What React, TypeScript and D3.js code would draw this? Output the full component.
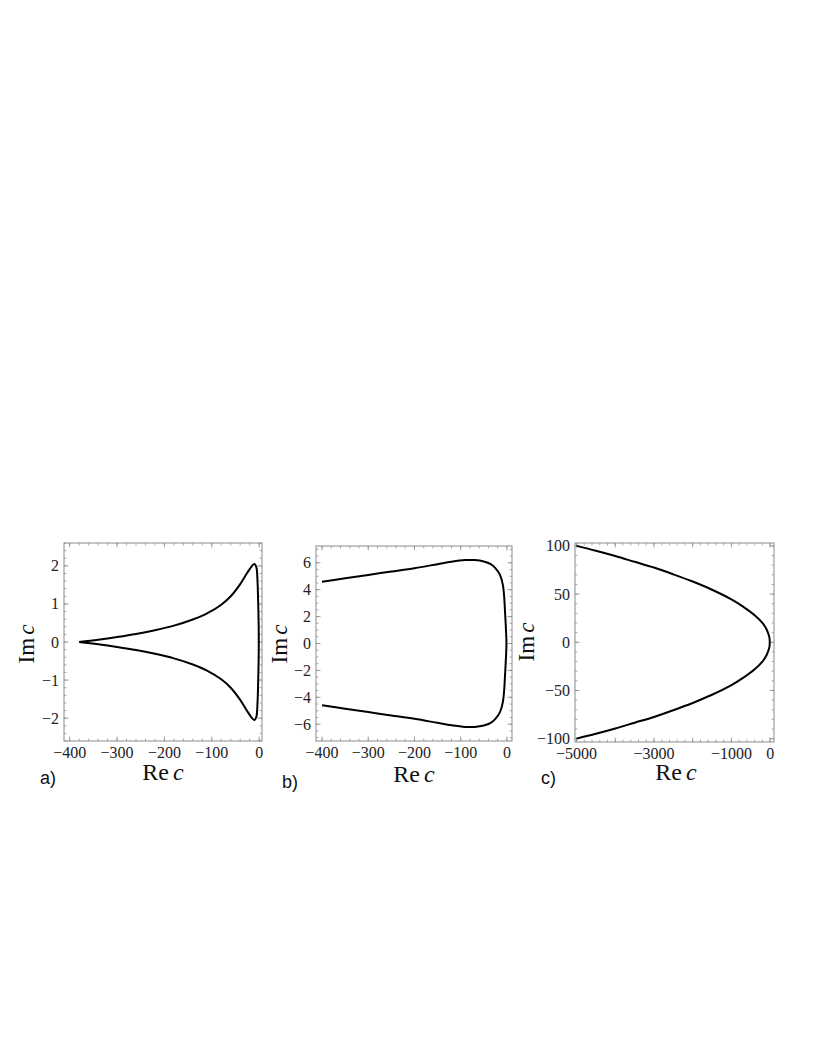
import * as d3 from "d3";

// curve a: Re c, Im c (loop)
const curveA: [number, number][] = [
  [-380, 0], [-340, 0.06], [-300, 0.13], [-260, 0.21], [-220, 0.31], [-180, 0.43],
  [-140, 0.59], [-110, 0.75], [-80, 0.98], [-60, 1.2], [-40, 1.52], [-25, 1.82],
  [-15, 2.0], [-10, 2.05], [-6, 1.97], [-3.5, 1.6], [-2, 1.0], [-1, 0.4], [-0.8, 0],
  [-1, -0.4], [-2, -1.0], [-3.5, -1.6], [-6, -1.97], [-10, -2.05], [-15, -2.0],
  [-25, -1.82], [-40, -1.52], [-60, -1.2], [-80, -0.98], [-110, -0.75], [-140, -0.59],
  [-180, -0.43], [-220, -0.31], [-260, -0.21], [-300, -0.13], [-340, -0.06], [-380, 0],
];

const curveB: [number, number][] = [
  [-400, 4.6], [-350, 4.85], [-300, 5.1], [-250, 5.35], [-200, 5.6], [-150, 5.9],
  [-120, 6.08], [-90, 6.2], [-70, 6.2], [-50, 6.1], [-35, 5.9], [-25, 5.6],
  [-15, 5.1], [-9, 4.4], [-6, 3.5], [-4, 2.3], [-2, 1.0], [-1, 0],
  [-2, -1.0], [-4, -2.3], [-6, -3.5], [-9, -4.4], [-15, -5.1], [-25, -5.6],
  [-35, -5.9], [-50, -6.1], [-70, -6.2], [-90, -6.2], [-120, -6.08], [-150, -5.9],
  [-200, -5.6], [-250, -5.35], [-300, -5.1], [-350, -4.85], [-400, -4.6],
];

const curveC: [number, number][] = [
  [-5000, 100], [-4500, 95], [-4000, 89.5], [-3500, 83.5], [-3000, 77.5], [-2500, 70.5],
  [-2000, 63], [-1500, 54.5], [-1000, 44.5], [-700, 37], [-400, 28], [-200, 20],
  [-100, 14], [-40, 8], [-15, 4], [-10, 0],
  [-15, -4], [-40, -8], [-100, -14], [-200, -20], [-400, -28], [-700, -37],
  [-1000, -44.5], [-1500, -54.5], [-2000, -63], [-2500, -70.5], [-3000, -77.5],
  [-3500, -83.5], [-4000, -89.5], [-4500, -95], [-5000, -100],
];

const xTicksA = [-400, -300, -200, -100, 0];
const yTicksA = [-2, -1, 0, 1, 2];
const xTicksB = [-400, -300, -200, -100, 0];
const yTicksB = [-6, -4, -2, 0, 2, 4, 6];
const xTicksC = [-5000, -3000, -1000, 0];
const yTicksC = [-100, -50, 0, 50, 100];

const fmt = (v: number) => (v < 0 ? "\u2212" + Math.abs(v) : String(v));

type PanelProps = {
  left: number; top: number; w: number; h: number;
  xDom: [number, number]; yDom: [number, number];
  xTicks: number[]; yTicks: number[];
  xMajorStep: number; xMinor: number; yMinor: number;
  data: [number, number][];
  tag: string; tagX: number; tagY: number;
  imX: number; imY: number; reX: number; reY: number;
};

function Panel(p: PanelProps) {
  const x = d3.scaleLinear().domain(p.xDom).range([p.left, p.left + p.w]);
  const y = d3.scaleLinear().domain(p.yDom).range([p.top + p.h, p.top]);
  const line = d3.line<[number, number]>()
    .x((d) => x(d[0])).y((d) => y(d[1]))
    .curve(d3.curveCatmullRom.alpha(0.5));
  const inX = (v: number) => v >= p.xDom[0] && v <= p.xDom[1];
  const inY = (v: number) => v >= p.yDom[0] && v <= p.yDom[1];
  const xMaj = d3.range(Math.ceil(p.xDom[0] / p.xMajorStep) * p.xMajorStep, p.xDom[1] + 1e-9, p.xMajorStep).filter(inX);
  const xMin = d3.range(Math.ceil(p.xDom[0] / p.xMinor) * p.xMinor, p.xDom[1] + 1e-9, p.xMinor).filter(inX);
  const yMaj = p.yTicks.filter(inY);
  const yMin = d3.range(Math.ceil(p.yDom[0] / p.yMinor) * p.yMinor, p.yDom[1] + 1e-9, p.yMinor).filter(inY);
  const grey = "#8a8a8a";
  const bottom = p.top + p.h;
  const right = p.left + p.w;
  return (
    <g>
      <rect x={p.left} y={p.top} width={p.w} height={p.h} fill="none" stroke={grey} strokeWidth={1} />
      {xMin.map((v, i) => (
        <g key={"xm" + i} stroke={grey} strokeWidth={0.7}>
          <line x1={x(v)} x2={x(v)} y1={bottom} y2={bottom - 2.5} />
          <line x1={x(v)} x2={x(v)} y1={p.top} y2={p.top + 2.5} />
        </g>
      ))}
      {xMaj.map((v, i) => (
        <g key={"xM" + i} stroke={grey} strokeWidth={0.8}>
          <line x1={x(v)} x2={x(v)} y1={bottom} y2={bottom - 4.5} />
          <line x1={x(v)} x2={x(v)} y1={p.top} y2={p.top + 4.5} />
        </g>
      ))}
      {yMin.map((v, i) => (
        <g key={"ym" + i} stroke={grey} strokeWidth={0.7}>
          <line x1={p.left} x2={p.left + 2.5} y1={y(v)} y2={y(v)} />
          <line x1={right} x2={right - 2.5} y1={y(v)} y2={y(v)} />
        </g>
      ))}
      {yMaj.map((v, i) => (
        <g key={"yM" + i} stroke={grey} strokeWidth={0.8}>
          <line x1={p.left} x2={p.left + 4.5} y1={y(v)} y2={y(v)} />
          <line x1={right} x2={right - 4.5} y1={y(v)} y2={y(v)} />
        </g>
      ))}
      {p.xTicks.map((v) => (
        <text key={"xl" + v} x={x(v)} y={bottom + 17} textAnchor="middle"
          fontFamily="Liberation Serif" fontSize={16} fill="#222">{fmt(v)}</text>
      ))}
      {p.yTicks.map((v) => (
        <text key={"yl" + v} x={p.left - 5} y={y(v) + 5.5} textAnchor="end"
          fontFamily="Liberation Serif" fontSize={16} fill="#222">{fmt(v)}</text>
      ))}
      <path d={line(p.data) ?? ""} fill="none" stroke="#000" strokeWidth={2} strokeLinejoin="round" />
      <text x={p.reX} y={p.reY} textAnchor="middle" fontFamily="Liberation Serif" fontSize={24} fill="#111">
        Re<tspan dx={4} fontStyle="italic">c</tspan>
      </text>
      <text transform={`translate(${p.imX},${p.imY}) rotate(-90)`} textAnchor="middle"
        fontFamily="Liberation Serif" fontSize={23} fill="#111">
        Im<tspan dx={3} fontStyle="italic">c</tspan>
      </text>
      <text x={p.tagX} y={p.tagY} fontFamily="Liberation Sans" fontSize={18} fill="#111">{p.tag}</text>
    </g>
  );
}

export default function App() {
  return (
    <svg width={817} height={1058} style={{ display: "block", position: "absolute", left: 0, top: 0 }}>
      <rect width={817} height={1058} fill="#fff" />
      <Panel left={64} top={543} w={198} h={198} xDom={[-412, 6]} yDom={[-2.6, 2.6]}
        xTicks={xTicksA} yTicks={yTicksA} xMajorStep={100} xMinor={20} yMinor={0.2}
        data={curveA} tag="a)" tagX={40} tagY={784} imX={34} imY={644} reX={163} reY={780} />
      <Panel left={316} top={546} w={196} h={195} xDom={[-413, 11]} yDom={[-7.25, 7.25]}
        xTicks={xTicksB} yTicks={yTicksB} xMajorStep={100} xMinor={20} yMinor={0.5}
        data={curveB} tag="b)" tagX={282} tagY={788} imX={287} imY={644} reX={414} reY={782} />
      <Panel left={575} top={543} w={199} h={199} xDom={[-5040, 100]} yDom={[-103.5, 103]}
        xTicks={xTicksC} yTicks={yTicksC} xMajorStep={1000} xMinor={200} yMinor={10}
        data={curveC} tag="c)" tagX={541} tagY={784} imX={534} imY={642} reX={676} reY={780} />
    </svg>
  );
}
